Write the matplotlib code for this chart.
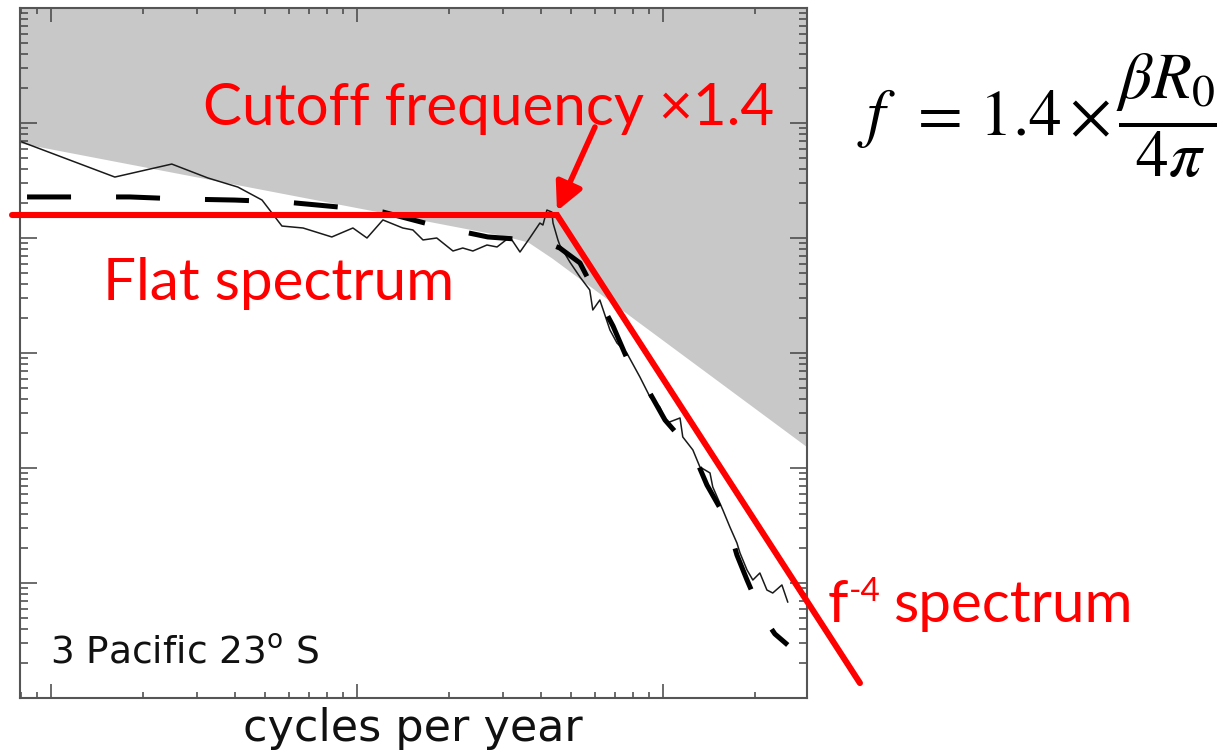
import matplotlib
matplotlib.use("Agg")
import matplotlib.pyplot as plt
import numpy as np

W, H = 1217, 750

# observed spectrum (log10 cycles per year, log10 power)
spec_logf = [-1.095, -0.791, -0.605, -0.487, -0.389, -0.310, -0.245, -0.176, -0.082, -0.013,
             0.033, 0.085, 0.150, 0.183, 0.216, 0.261, 0.314, 0.346, 0.379, 0.425,
             0.458, 0.500, 0.533, 0.565, 0.598, 0.608, 0.621, 0.637, 0.641, 0.657,
             0.663, 0.696, 0.729, 0.761, 0.771, 0.794, 0.827, 0.850, 0.882, 0.925,
             0.958, 0.990, 1.013, 1.056, 1.065, 1.098, 1.121, 1.154, 1.163, 1.196,
             1.219, 1.242, 1.252, 1.275, 1.294, 1.317, 1.340, 1.359, 1.389, 1.408]
spec_logp = [0.835, 0.530, 0.643, 0.522, 0.443, 0.330, 0.104, 0.087, 0.009, 0.087,
             0.000, 0.157, 0.087, 0.070, -0.017, 0.000, -0.113, -0.087, -0.113, -0.061,
             -0.078, 0.009, -0.122, 0.000, 0.130, 0.113, 0.243, 0.226, 0.130, -0.017,
             -0.061, -0.209, -0.339, -0.452, -0.626, -0.539, -0.800, -0.913, -1.000, -1.209,
             -1.383, -1.470, -1.609, -1.565, -1.730, -1.843, -1.991, -2.043, -2.165, -2.365,
             -2.513, -2.652, -2.739, -2.887, -2.974, -2.913, -3.061, -3.087, -3.017, -3.165]

# model spectrum (dashed)
model_logf = [-1.078, -0.742, -0.572, -0.399, -0.235, -0.062, 0.085, 0.271, 0.428, 0.605,
              0.663, 0.729, 0.778, 0.837, 0.882, 0.948, 1.007, 1.098, 1.144, 1.209,
              1.242, 1.275, 1.324, 1.366, 1.408]
model_logp = [0.357, 0.357, 0.339, 0.330, 0.313, 0.270, 0.226, 0.096, 0.009, -0.026,
              -0.087, -0.217, -0.470, -0.765, -1.043, -1.304, -1.583, -1.861, -2.148, -2.452,
              -2.757, -2.974, -3.278, -3.443, -3.539]

# lower edge of the shaded region
shade_logf = [-1.101, 0.484, 0.559, 0.637, 1.471]
shade_logp = [0.826, 0.017, -0.035, -0.174, -1.817]

# flat + f^-4 guide line
guide_logf = [-1.127, 0.654, 1.644]
guide_logp = [0.200, 0.200, -3.870]

arrow_tail = (0.778, 0.965)
arrow_head = (0.654, 0.235)

xlim_log = (-1.101, 1.471)
ylim_log = (-4.0, 2.0)

fig = plt.figure(figsize=(W / 100, H / 100), dpi=100)
ax = fig.add_axes([20 / W, 52 / H, 787 / W, 690 / H])
ax.set_xscale("log")
ax.set_yscale("log")
ax.set_xlim(10 ** xlim_log[0], 10 ** xlim_log[1])
ax.set_ylim(10 ** ylim_log[0], 10 ** ylim_log[1])

f = 10 ** np.array(shade_logf)
ax.fill_between(f, 10 ** np.array(shade_logp), 10 ** ylim_log[1],
                color="#c8c8c8", lw=0, zorder=1)

ax.plot(10 ** np.array(spec_logf), 10 ** np.array(spec_logp),
        color="#1a1a1a", lw=1.1, zorder=3)
ax.plot(10 ** np.array(model_logf), 10 ** np.array(model_logp),
        color="black", lw=3.6, dashes=(8.8, 9.0), zorder=3)

ax.plot(10 ** np.array(guide_logf), 10 ** np.array(guide_logp),
        color="red", lw=4.4, solid_capstyle="round", solid_joinstyle="miter",
        clip_on=False, zorder=5)
ax.annotate("", xy=(10 ** arrow_head[0], 10 ** arrow_head[1]),
            xytext=(10 ** arrow_tail[0], 10 ** arrow_tail[1]),
            arrowprops=dict(arrowstyle="-|>", color="red", lw=4,
                            mutation_scale=42, shrinkA=0, shrinkB=0),
            annotation_clip=False, zorder=6)

for side in ax.spines.values():
    side.set_color("#555555")
    side.set_linewidth(1.5)
ax.tick_params(which="both", direction="in", top=True, right=True,
               labelbottom=False, labelleft=False, color="#444444", width=1.1)
ax.tick_params(axis="x", which="major", length=10)
ax.tick_params(axis="x", which="minor", length=4)
ax.tick_params(axis="y", which="major", length=12)
ax.tick_params(axis="y", which="minor", length=6)
ax.yaxis.set_minor_locator(matplotlib.ticker.LogLocator(base=10, subs=np.arange(2, 10), numticks=20))
ax.xaxis.set_minor_locator(matplotlib.ticker.LogLocator(base=10, subs=np.arange(2, 10), numticks=20))
ax.yaxis.set_major_locator(matplotlib.ticker.LogLocator(base=10, numticks=20))


def fx(px):
    return px / W


def fy(py):
    return 1 - py / H


fig.text(fx(413), fy(728), "cycles per year", ha="center", va="center",
         fontsize=32, family="DejaVu Sans", color="#111111")
fig.text(fx(50), fy(663), r"3 Pacific 23$^{\rm o}$ S", ha="left", va="baseline",
         fontsize=27, family="DejaVu Sans", math_fontfamily="dejavusans", color="#111111")

red_font = dict(color="red", family="Lato", fontsize=42)
fig.text(fx(203), fy(125), "Cutoff frequency \u00d71.4", ha="left", va="baseline", **red_font)
fig.text(fx(103), fy(300), "Flat spectrum", ha="left", va="baseline", **red_font)
fig.text(fx(828), fy(622), "f", ha="left", va="baseline", **red_font)
fig.text(fx(849), fy(601), "-4", ha="left", va="baseline", color="red", family="Lato", fontsize=24)
fig.text(fx(893), fy(622), "spectrum", ha="left", va="baseline", **red_font)

fig.text(fx(857), fy(116), r"$f\ \,{=}\,1.4\,{\times}\,\dfrac{\beta R_0}{4\pi}$",
         ha="left", va="center", fontsize=47, math_fontfamily="stix", color="black")

fig.savefig("out.png", dpi=100)
